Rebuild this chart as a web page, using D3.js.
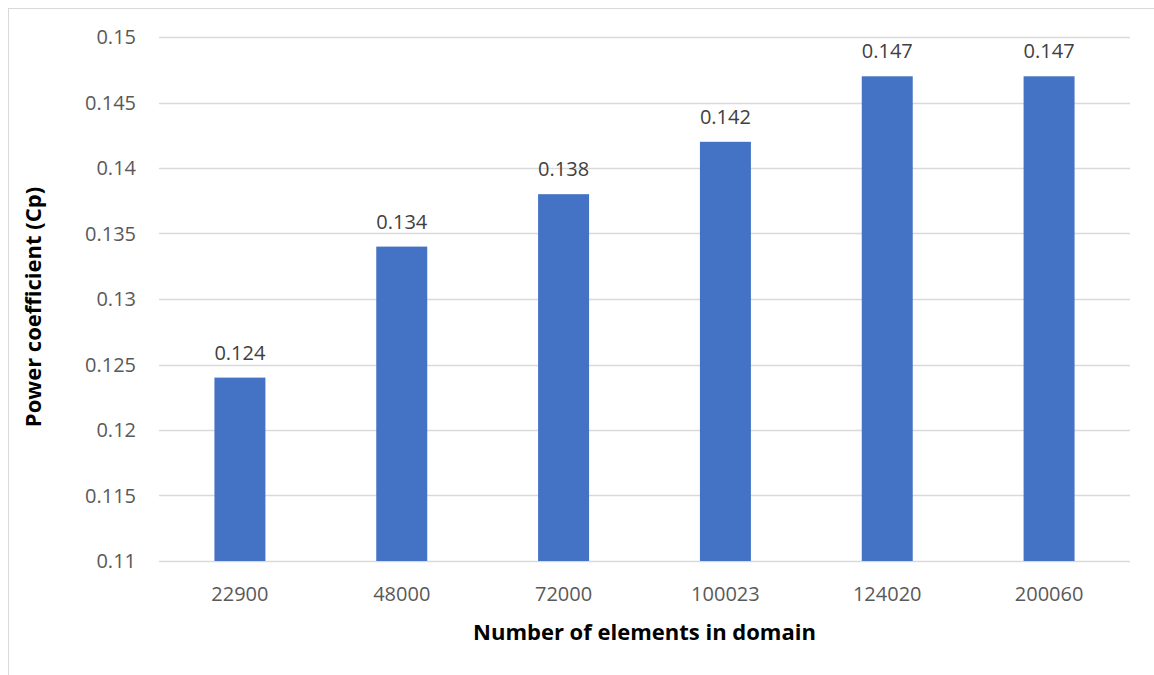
<!DOCTYPE html>
<html lang="en">
<head>
    <meta charset="UTF-8">
    <title>Power coefficient vs number of elements</title>
    <script src="https://d3js.org/d3.v7.min.js"></script>
    <style>
        body {
            margin: 0;
            background: white;
            overflow: hidden;
        }
        svg text {
            font-family: "Open Sans", sans-serif;
        }
    </style>
</head>
<body>
    <div id="chart"></div>

    <script>
        const categories = ["22900", "48000", "72000", "100023", "124020", "200060"];
        const cpValues = [0.124, 0.134, 0.138, 0.142, 0.147, 0.147];
        const yTicks = [0.11, 0.115, 0.12, 0.125, 0.13, 0.135, 0.14, 0.145, 0.15];

        const width = 1154,
              height = 675;
        const margin = {top: 37, right: 24, bottom: 114, left: 159};

        const svg = d3.select("#chart")
                      .append("svg")
                      .attr("width", width)
                      .attr("height", height);

        // chart border (runs off the right/bottom edges like the original)
        svg.append("rect")
           .attr("x", 8.5)
           .attr("y", 8.5)
           .attr("width", width)
           .attr("height", height)
           .attr("fill", "none")
           .attr("stroke", "#d9d9d9")
           .attr("stroke-width", 1);

        const x = d3.scaleBand()
                    .domain(categories)
                    .range([margin.left, width - margin.right])
                    .paddingInner(0.685)
                    .paddingOuter(0.3425);

        const y = d3.scaleLinear()
                    .domain([0.11, 0.15])
                    .range([height - margin.bottom, margin.top]);

        // gridlines
        svg.append("g")
           .selectAll("line")
           .data(yTicks)
           .join("line")
           .attr("x1", margin.left)
           .attr("x2", width - margin.right)
           .attr("y1", d => Math.round(y(d)) + 0.5)
           .attr("y2", d => Math.round(y(d)) + 0.5)
           .attr("stroke", "#d9d9d9")
           .attr("stroke-width", 1.3);

        // y tick labels
        svg.append("g")
           .selectAll("text")
           .data(yTicks)
           .join("text")
           .attr("x", margin.left - 23)
           .attr("y", d => y(d))
           .attr("dy", "0.35em")
           .attr("text-anchor", "end")
           .attr("fill", "#595959")
           .style("font-size", "20px")
           .text(d => d3.format("")(+d.toFixed(3)));

        // bars
        svg.append("g")
           .selectAll("rect")
           .data(cpValues)
           .join("rect")
           .attr("x", (d, i) => x(categories[i]))
           .attr("width", x.bandwidth())
           .attr("y", d => y(d))
           .attr("height", d => y(0.11) - y(d))
           .attr("fill", "#4472c4");

        // value labels
        svg.append("g")
           .selectAll("text")
           .data(cpValues)
           .join("text")
           .attr("x", (d, i) => x(categories[i]) + x.bandwidth() / 2)
           .attr("y", d => y(d) - 18)
           .attr("text-anchor", "middle")
           .attr("fill", "#404040")
           .style("font-size", "20px")
           .text(d => d.toFixed(3));

        // x tick labels
        svg.append("g")
           .selectAll("text")
           .data(categories)
           .join("text")
           .attr("x", d => x(d) + x.bandwidth() / 2)
           .attr("y", height - margin.bottom + 40)
           .attr("text-anchor", "middle")
           .attr("fill", "#595959")
           .style("font-size", "20px")
           .text(d => d);

        // axis titles
        svg.append("text")
           .attr("x", (margin.left + width - margin.right) / 2)
           .attr("y", 640)
           .attr("text-anchor", "middle")
           .attr("fill", "#000")
           .style("font-size", "22px")
           .style("font-weight", "bold")
           .text("Number of elements in domain");

        svg.append("text")
           .attr("transform", `translate(41,${(margin.top + height - margin.bottom) / 2 + 8}) rotate(-90)`)
           .attr("text-anchor", "middle")
           .attr("fill", "#000")
           .style("font-size", "22px")
           .style("font-weight", "bold")
           .text("Power coefficient (Cp)");
    </script>
</body>
</html>
